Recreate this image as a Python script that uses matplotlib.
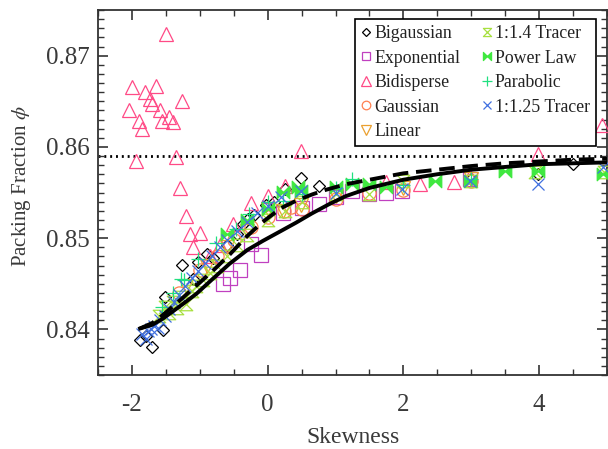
import matplotlib
matplotlib.use("Agg")
import matplotlib.pyplot as plt
from matplotlib.path import Path
from matplotlib.ticker import MultipleLocator, FormatStrFormatter

plt.rcParams['font.family'] = ['Liberation Serif', 'DejaVu Serif']
plt.rcParams['mathtext.fontset'] = 'stix'

# ---------------- data ----------------
big_x = [-1.88, -1.79, -1.70, -1.54, -1.51, -1.26, -1.10, -1.03, -0.90, -0.80, -0.60, -0.45, -0.37, -0.29, -0.20, -0.02, 0.10, 0.25, 0.49, 0.75, 3.00, 3.98, 4.50]
big_y = [0.8388, 0.8393, 0.8381, 0.8399, 0.8435, 0.8471, 0.8455, 0.8474, 0.8483, 0.8478, 0.8492, 0.8505, 0.8516, 0.8521, 0.8525, 0.8536, 0.8540, 0.8554, 0.8566, 0.8557, 0.8565, 0.8570, 0.8581]

exp_x = [-0.66, -0.56, -0.41, -0.24, -0.10, 0.22, 0.50, 0.75, 1.00, 1.25, 1.49, 1.74, 1.98, 2.98]
exp_y = [0.8450, 0.8456, 0.8465, 0.8494, 0.8481, 0.8528, 0.8533, 0.8537, 0.8545, 0.8552, 0.8548, 0.8550, 0.8552, 0.8565]

bid_x = [-1.50, -2.00, -1.81, -1.65, -1.26, -1.74, -1.71, -2.05, -1.59, -1.45, -1.55, -1.40, -1.90, -1.85, -1.94, -1.35,
         -1.29, -1.21, -1.15, -1.00, -1.10, -0.85, -0.70, -0.51, -0.25, 0.00, 0.25, 0.49, 1.74, 2.25, 2.74, 2.98, 3.98, 4.93]
bid_y = [0.8724, 0.8666, 0.8660, 0.8667, 0.8650, 0.8652, 0.8647, 0.8640, 0.8640, 0.8633, 0.8628, 0.8627, 0.8628, 0.8620, 0.8585, 0.8589,
         0.8555, 0.8524, 0.8505, 0.8506, 0.8490, 0.8480, 0.8492, 0.8516, 0.8538, 0.8546, 0.8557, 0.8595, 0.8561, 0.8559, 0.8561, 0.8568, 0.8592, 0.8624]

gau_x = [-1.30, -1.00, -0.75, -0.50, -0.25, 0.00, 0.24, 0.34, 0.50, 1.00, 1.50, 2.00, 3.00]
gau_y = [0.8440, 0.8465, 0.8480, 0.8498, 0.8512, 0.8523, 0.8530, 0.8534, 0.8532, 0.8543, 0.8550, 0.8553, 0.8563]

lin_x = [-1.20, -0.90, -0.60, -0.30, 0.00, 0.22, 0.49, 1.00, 2.00, 3.00]
lin_y = [0.8448, 0.8470, 0.8490, 0.8508, 0.8532, 0.8530, 0.8536, 0.8546, 0.8555, 0.8565]

t14_x = [-1.60, -1.52, -1.45, -1.40, -1.33, -1.28, -1.20, -1.12, -1.05, -0.95, -0.85, -0.75, -0.60, -0.45, -0.30, 0.00, 0.25, 0.50, 1.00, 1.50, 2.00, 3.00, 3.94, 4.95]
t14_y = [0.8415, 0.8425, 0.8418, 0.8430, 0.8423, 0.8436, 0.8428, 0.8442, 0.8447, 0.8454, 0.8462, 0.8470, 0.8480, 0.8492, 0.8503, 0.8520, 0.8530, 0.8540, 0.8548, 0.8548, 0.8563, 0.8563, 0.8572, 0.8572]

pow_x = [-0.60, -0.30, 0.00, 0.23, 0.44, 0.49, 1.00, 1.25, 1.49, 1.74, 2.47, 2.98, 3.50, 3.98, 4.94]
pow_y = [0.8505, 0.8520, 0.8532, 0.8551, 0.8556, 0.8552, 0.8556, 0.8559, 0.8559, 0.8556, 0.8563, 0.8563, 0.8574, 0.8574, 0.8570]

par_x = [-1.55, -1.40, -1.27, -1.24, -1.02, -0.76, -0.46, -0.27, 0.00, 0.22, 0.50, 1.00, 1.25, 2.00, 3.00]
par_y = [0.8425, 0.8440, 0.8455, 0.8454, 0.8477, 0.8495, 0.8510, 0.8526, 0.8540, 0.8541, 0.8548, 0.8555, 0.8565, 0.8558, 0.8565]

t125_x = [-1.85, -1.80, -1.76, -1.72, -1.68, -1.62, -1.58, -1.52, -1.45, -1.38, -1.30, -1.22, -1.12, -1.02, -0.92, -0.82, -0.70, -0.60, -0.45, -0.30, -0.15, 0.00, 0.20, 0.49, 1.00, 1.98, 2.98, 3.98, 4.94]
t125_y = [0.8395, 0.8390, 0.8398, 0.8400, 0.8404, 0.8402, 0.8410, 0.8415, 0.8422, 0.8430, 0.8438, 0.8447, 0.8456, 0.8464, 0.8473, 0.8480, 0.8490, 0.8498, 0.8508, 0.8518, 0.8527, 0.8535, 0.8545, 0.8552, 0.8550, 0.8554, 0.8563, 0.8559, 0.8578]

solid_x = [-1.88, -1.70, -1.54, -1.30, -1.05, -0.80, -0.56, -0.30, -0.07, 0.20, 0.42, 0.65, 0.90, 1.15, 1.50, 2.00, 2.50, 3.00, 3.50, 4.00, 4.50, 5.00]
solid_y = [0.8401, 0.8405, 0.8412, 0.8425, 0.8439, 0.8456, 0.8472, 0.8487, 0.8497, 0.8508, 0.8517, 0.8527, 0.8537, 0.8546, 0.8555, 0.8564, 0.8570, 0.8575, 0.8578, 0.8581, 0.8582, 0.8583]

dash_x = [-1.88, -1.70, -1.54, -1.29, -1.05, -0.81, -0.56, -0.32, -0.10, 0.02, 0.20, 0.42, 0.66, 0.86, 1.15, 1.50, 2.00, 2.50, 3.00, 3.50, 4.00, 4.50, 5.00]
dash_y = [0.8401, 0.8407, 0.8416, 0.8432, 0.8448, 0.8464, 0.8482, 0.8501, 0.8516, 0.8523, 0.8533, 0.8541, 0.8548, 0.8553, 0.8559, 0.8564, 0.8571, 0.8575, 0.8579, 0.8582, 0.8584, 0.8586, 0.8587]

phi_ref = 0.859

# ---------------- markers ----------------
hourglass = Path([(-1, 1), (1, 1), (-1, -1), (1, -1), (-1, 1)],
                 [Path.MOVETO, Path.LINETO, Path.LINETO, Path.LINETO, Path.CLOSEPOLY])
bowtie = Path([(-1, 1), (-1, -1), (1, 1), (1, -1), (-1, 1)],
              [Path.MOVETO, Path.LINETO, Path.LINETO, Path.LINETO, Path.CLOSEPOLY])

TXT = '#3a3a3a'

fig = plt.figure(figsize=(6.08, 4.49), dpi=100)
ax = fig.add_axes([98 / 608, 74 / 449, 509 / 608, 365 / 449])

ax.axhline(phi_ref, color='black', lw=2.0, ls=(0, (0.7, 1.4)), zorder=1)

mew = 0.9
series = [
    (big_x, big_y, 'Bigaussian', 'D', '#000000', 6.5, False),
    (exp_x, exp_y, 'Exponential', 's', '#c040c0', 9.5, False),
    (bid_x, bid_y, 'Bidisperse', '^', '#ff4a86', 10.5, False),
    (gau_x, gau_y, 'Gaussian', 'o', '#ff8050', 9.5, False),
    (lin_x, lin_y, 'Linear', 'v', '#eaa030', 10, False),
    (t14_x, t14_y, '1:1.4 Tracer', hourglass, '#a8e040', 9, False),
    (pow_x, pow_y, 'Power Law', bowtie, '#40e840', 9, True),
    (par_x, par_y, 'Parabolic', '+', '#20e080', 10, False),
    (t125_x, t125_y, '1:1.25 Tracer', 'x', '#4070e0', 8, False),
]
for xs, ys, lab, mk, col, ms, filled in series:
    ax.plot(xs, ys, ls='none', marker=mk, ms=ms, mew=mew,
            mec=col, mfc=col if filled else 'none', label=lab, zorder=3)

ax.plot(solid_x, solid_y, color='black', lw=2.8, zorder=5)
ax.plot(dash_x, dash_y, color='black', lw=2.8, ls=(0, (4, 2)), zorder=5)

ax.set_xlim(-2.5, 5.0)
ax.set_ylim(0.835, 0.875)
ax.xaxis.set_major_locator(MultipleLocator(2))
ax.xaxis.set_minor_locator(MultipleLocator(0.5))
ax.yaxis.set_major_locator(MultipleLocator(0.01))
ax.yaxis.set_minor_locator(MultipleLocator(0.001))
ax.xaxis.set_major_formatter(FormatStrFormatter('%d'))
ax.yaxis.set_major_formatter(FormatStrFormatter('%.2f'))
ax.tick_params(which='both', direction='in', top=True, right=True, colors='#333333',
               labelcolor=TXT, labelsize=18)
ax.tick_params(which='major', length=7, width=1.2)
ax.tick_params(which='minor', length=4, width=1.0)
ax.tick_params(axis='x', which='major', pad=14)
ax.tick_params(axis='y', which='major', pad=6)
for s in ax.spines.values():
    s.set_linewidth(1.3)
    s.set_color('#333333')

ax.set_xlabel('Skewness', fontsize=17, color=TXT)
ax.set_ylabel(r'Packing Fraction $\phi$', fontsize=15, color=TXT)
ax.xaxis.set_label_coords(0.5, -0.143)
ax.yaxis.set_label_coords(-0.128, 0.518)

leg = ax.legend(ncol=2, loc='upper right', bbox_to_anchor=(596 / 608, 430 / 449),
                bbox_transform=fig.transFigure, borderaxespad=0, fontsize=12.8,
                frameon=True, fancybox=False, edgecolor='black', framealpha=1,
                markerscale=0.65, handlelength=0.6, handletextpad=0.15,
                columnspacing=1.2, labelspacing=0.42, borderpad=0.35)
leg.get_frame().set_linewidth(1.2)
for t in leg.get_texts():
    t.set_color('#222222')

fig.savefig('out.png', dpi=100)
